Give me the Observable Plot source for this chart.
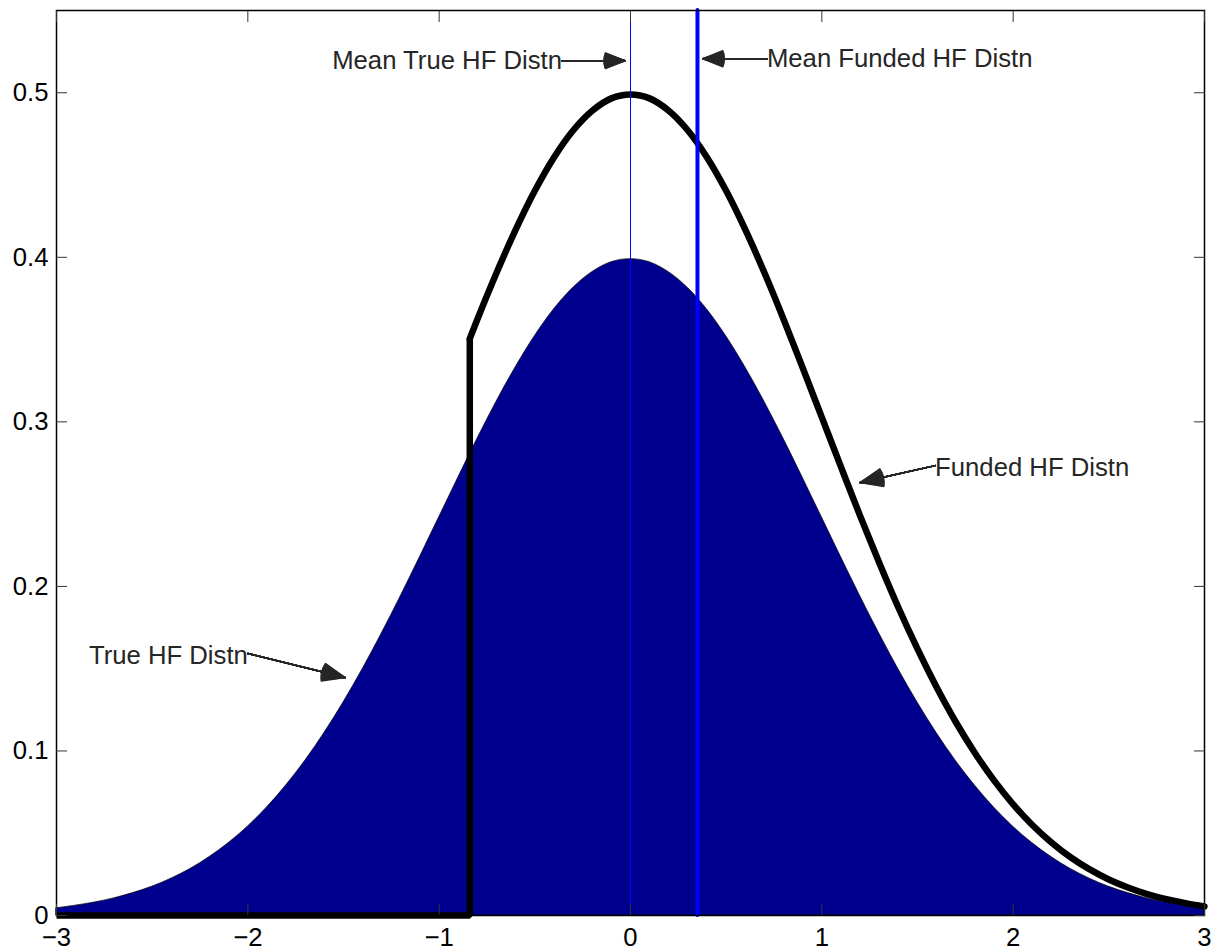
<!DOCTYPE html>
<html><head><meta charset="utf-8">
<script src="https://cdn.jsdelivr.net/npm/d3@7"></script>
<script src="https://cdn.jsdelivr.net/npm/@observablehq/plot@0.6"></script>
<style>body{margin:0;background:#fff} svg{display:block}</style>
</head><body><div id="chart"></div>
<script>
// ---- data ----
const xs = [-3.0,-2.9,-2.8,-2.7,-2.6,-2.5,-2.4,-2.3,-2.2,-2.1,-2.0,-1.9,-1.8,-1.7,-1.6,-1.5,-1.4,-1.3,-1.2,-1.1,-1.0,-0.9,-0.8,-0.7,-0.6,-0.5,-0.4,-0.3,-0.2,-0.1,0.0,0.1,0.2,0.3,0.4,0.5,0.6,0.7,0.8,0.9,1.0,1.1,1.2,1.3,1.4,1.5,1.6,1.7,1.8,1.9,2.0,2.1,2.2,2.3,2.4,2.5,2.6,2.7,2.8,2.9,3.0];
const trueDensity = [0.0044,0.0060,0.0079,0.0104,0.0136,0.0175,0.0224,0.0283,0.0355,0.0440,0.0540,0.0656,0.0790,0.0940,0.1109,0.1295,0.1497,0.1714,0.1942,0.2179,0.2420,0.2661,0.2897,0.3123,0.3332,0.3521,0.3683,0.3814,0.3910,0.3970,0.3989,0.3970,0.3910,0.3814,0.3683,0.3521,0.3332,0.3123,0.2897,0.2661,0.2420,0.2179,0.1942,0.1714,0.1497,0.1295,0.1109,0.0940,0.0790,0.0656,0.0540,0.0440,0.0355,0.0283,0.0224,0.0175,0.0136,0.0104,0.0079,0.0060,0.0044];

const cutoffX = -0.84;
const fundedX = [-0.84,-0.8,-0.7,-0.6,-0.5,-0.4,-0.3,-0.2,-0.1,0.0,0.1,0.2,0.3,0.4,0.5,0.6,0.7,0.8,0.9,1.0,1.1,1.2,1.3,1.4,1.5,1.6,1.7,1.8,1.9,2.0,2.1,2.2,2.3,2.4,2.5,2.6,2.7,2.8,2.9,3.0];
const fundedDensity = [0.3506,0.3624,0.3906,0.4168,0.4404,0.4607,0.4771,0.4891,0.4966,0.4990,0.4966,0.4891,0.4771,0.4607,0.4404,0.4168,0.3906,0.3624,0.3328,0.3027,0.2726,0.2429,0.2144,0.1872,0.1620,0.1387,0.1176,0.0988,0.0821,0.0675,0.0550,0.0444,0.0354,0.0280,0.0219,0.0170,0.0130,0.0099,0.0075,0.0055];

const trueMean = 0;
const fundedMean = 0.35;

const xTicks = [-3,-2,-1,0,1,2,3];
const yTicks = [0,0.1,0.2,0.3,0.4,0.5];

const annLabels = ["Mean True HF Distn","Mean Funded HF Distn","Funded HF Distn","True HF Distn"];
const annSide   = ["end","start","start","end"];
const annTextX  = [-0.358, 0.713, 1.592, -2.0];
const annTextY  = [0.5195, 0.5207, 0.2722, 0.158];
const arrowFromX = [-0.358, 0.713, 1.592, -2.0];
const arrowFromY = [0.5195, 0.5207, 0.2734, 0.1592];
const arrowToX   = [-0.029, 0.379, 1.200, -1.492];
const arrowToY   = [0.5195, 0.5207, 0.2631, 0.1446];

// ---- tables ----
const trueData = xs.map((x,i)=>({x, y: trueDensity[i]}));
const fundedData = fundedX.map((x,i)=>({x, y: fundedDensity[i]}));
const floorData = [{x: xs[0], y: 0},{x: cutoffX, y: 0},{x: cutoffX, y: fundedDensity[0]}];
const anns = annLabels.map((t,i)=>({t, side: annSide[i], x: annTextX[i], y: annTextY[i],
  x1: arrowFromX[i], y1: arrowFromY[i], x2: arrowToX[i], y2: arrowToY[i]}));

const ink = "#262626";
const headMarks = [];
for (let a = 4; a <= 44; a += 4) {
  headMarks.push(Plot.arrow(anns, {x1:"x1", y1:"y1", x2:"x2", y2:"y2", stroke: ink, strokeWidth: 1.5, headAngle: a, headLength: 24}));
}

const fmt = d3.format("");
const font = "'Liberation Sans', Arial, Helvetica, sans-serif";
const fs = 25.7;
const chart = Plot.plot({
  width: 1220, height: 951,
  marginLeft: 56, marginRight: 16, marginTop: 10, marginBottom: 36,
  x: {domain: [-3, 3]},
  y: {domain: [0, 0.55]},
  style: {fontFamily: font, fontSize: fs + "px", background: "#fff", color: "#000"},
  marks: [
    Plot.areaY(trueData, {x: "x", y: "y", fill: "#00008F", stroke: "#000", strokeWidth: 0.7, curve: "catmull-rom"}),
    Plot.line(floorData, {x: "x", y: "y", stroke: "#000", strokeWidth: 6.5, strokeLinejoin: "miter", strokeLinecap: "butt"}),
    Plot.line(fundedData, {x: "x", y: "y", stroke: "#000", strokeWidth: 6.5, strokeLinejoin: "round", curve: "catmull-rom"}),
    Plot.ruleX([trueMean], {x: d=>d, y1: 0, y2: 0.55, stroke: "#0000FF", strokeWidth: 1}),
    Plot.ruleX([fundedMean], {x: d=>d, y1: 0, y2: 0.55, stroke: "#0000FF", strokeWidth: 4, strokeLinecap: "round"}),
    Plot.text(anns.filter(d=>d.side==="end"), {x: "x", y: "y", text: "t", textAnchor: "end", fill: ink, fontSize: fs}),
    Plot.text(anns.filter(d=>d.side==="start"), {x: "x", y: "y", text: "t", textAnchor: "start", fill: ink, fontSize: fs}),
    Plot.arrow(anns, {x1:"x1", y1:"y1", x2:"x2", y2:"y2", stroke: ink, strokeWidth: 1.2, headLength: 0}),
    ...headMarks,
    Plot.frame({stroke: "#000", strokeWidth: 1.5}),
    Plot.axisX({ticks: xTicks, tickSize: -11, fill: "none", stroke: "#333", label: null}),
    Plot.axisX({ticks: xTicks, anchor: "top", tickSize: -11, fill: "none", stroke: "#333", label: null}),
    Plot.axisY({ticks: yTicks, tickSize: -11, fill: "none", stroke: "#333", label: null}),
    Plot.axisY({ticks: yTicks, anchor: "right", tickSize: -11, fill: "none", stroke: "#333", label: null}),
    Plot.axisX({ticks: xTicks, tickSize: 0, tickPadding: 12, tickFormat: fmt, fill: "#000", fontSize: fs, label: null}),
    Plot.axisY({ticks: yTicks, tickSize: 0, tickPadding: 8, tickFormat: fmt, fill: "#000", fontSize: fs, label: null})
  ]
});
document.getElementById("chart").appendChild(chart);
</script>
</body></html>
